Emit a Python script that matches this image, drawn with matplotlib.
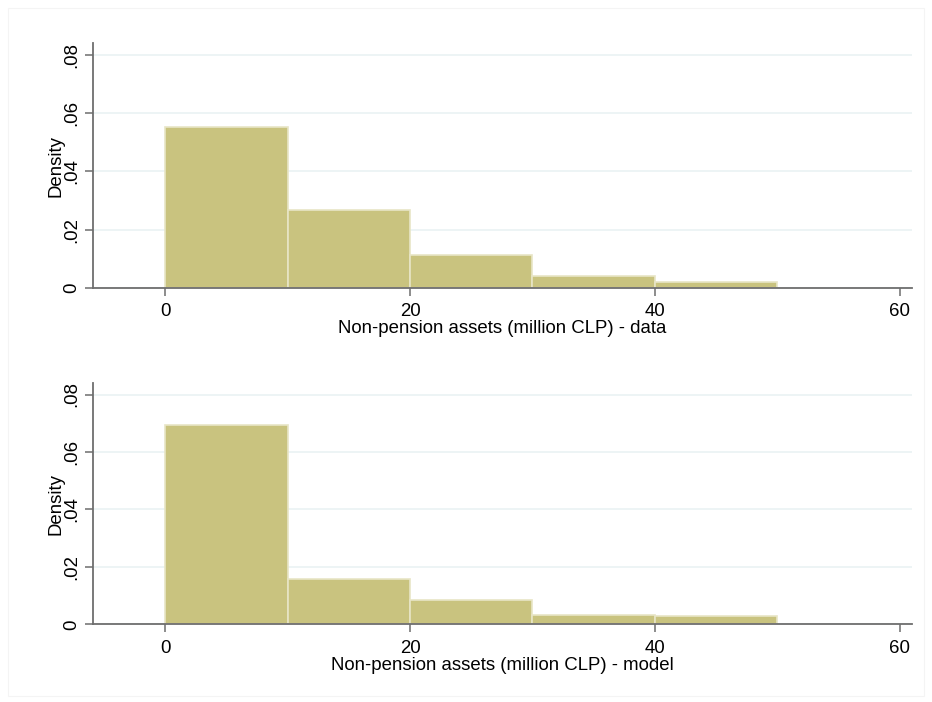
import matplotlib
matplotlib.use('Agg')
import matplotlib.pyplot as plt
from matplotlib.patches import Rectangle

plt.rcParams['font.family'] = ['Liberation Sans', 'DejaVu Sans']

# Histogram bins (million CLP) and densities
bin_edges = [0, 10, 20, 30, 40, 50]
density_data = [0.0551, 0.0266, 0.0113, 0.0041, 0.0022]
density_model = [0.0693, 0.0157, 0.0084, 0.0033, 0.0029]

x_ticks = [0, 20, 40, 60]
y_ticks = [0, 0.02, 0.04, 0.06, 0.08]
y_ticklabels = ['0', '.02', '.04', '.06', '.08']

bar_color = '#c9c37f'
grid_color = '#eaf2f3'
axis_color = '#6e6e6e'
fs = 13.4

fig = plt.figure(figsize=(9.32, 7.02), dpi=100)
fig.patches.append(Rectangle((8 / 932, 6 / 702), 1 - 16 / 932, 1 - 14 / 702,
                             transform=fig.transFigure, fill=False,
                             edgecolor='#f4f4f4', linewidth=0.8))

panels = [
    (density_data, 'Non-pension assets (million CLP) - data', [0.0998, 0.5897, 0.8787, 0.349]),
    (density_model, 'Non-pension assets (million CLP) - model', [0.0998, 0.1107, 0.8787, 0.3437]),
]

for dens, xlabel, rect in panels:
    ax = fig.add_axes(rect)
    widths = [bin_edges[i + 1] - bin_edges[i] for i in range(len(dens))]
    ax.bar(bin_edges[:-1], dens, width=widths, align='edge', color=bar_color,
           edgecolor='#e8e5c6', linewidth=1.2, zorder=2)
    ax.set_xlim(-5.9, 61)
    ax.set_ylim(0, 0.084)
    ax.set_xticks(x_ticks)
    ax.set_yticks(y_ticks)
    ax.set_yticklabels(y_ticklabels, rotation=90, va='center')
    ax.grid(axis='y', color=grid_color, linewidth=1.2, zorder=0)
    for side in ['top', 'right']:
        ax.spines[side].set_visible(False)
    for side in ['left', 'bottom']:
        ax.spines[side].set_color(axis_color)
        ax.spines[side].set_linewidth(1.3)
    ax.tick_params(colors=axis_color, labelcolor='black', labelsize=fs,
                   length=6, width=1.1)
    ax.tick_params(axis='x', pad=5)
    ax.tick_params(axis='y', pad=3)
    ax.set_xlabel(xlabel, fontsize=fs, labelpad=0)
    ax.set_ylabel('Density', fontsize=fs, labelpad=-1)

fig.savefig('out.png', dpi=100, facecolor='white')
